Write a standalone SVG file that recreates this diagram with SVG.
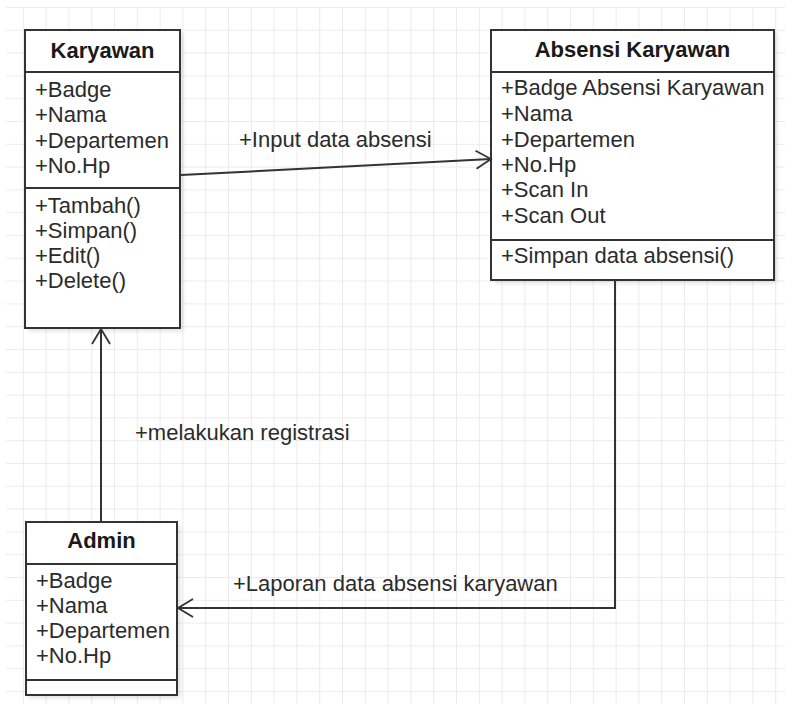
<svg xmlns="http://www.w3.org/2000/svg" width="785" height="704" viewBox="0 0 785 704">
<defs>
<pattern id="grid" x="0" y="7" width="22.8" height="22.8" patternUnits="userSpaceOnUse">
<path d="M0,0 H22.8 M0,0 V22.8" fill="none" stroke="#e6e6e6" stroke-width="1.6"/>
</pattern>
<marker id="open" markerUnits="userSpaceOnUse" markerWidth="20" markerHeight="24" refX="16" refY="11" orient="auto">
<path d="M1,2 L16,11 L1,20" fill="none" stroke="#333" stroke-width="1.8"/>
</marker>
<filter id="sh" x="-10%" y="-10%" width="130%" height="130%">
<feGaussianBlur stdDeviation="2"/>
</filter>
</defs>
<style>
.box{fill:#fff;stroke:#333;stroke-width:2}
.div{stroke:#333;stroke-width:2}
.shadow{fill:#000;opacity:0.12;filter:url(#sh)}
.t{font-family:"Liberation Sans",Arial,sans-serif;font-size:22px;fill:#2b2b2b}
.h{font-family:"Liberation Sans",Arial,sans-serif;font-size:22px;font-weight:bold;fill:#1a1a1a;text-anchor:middle}
.c{fill:none;stroke:#333;stroke-width:2}
</style>
<rect x="0" y="0" width="785" height="704" fill="#fff"/>
<rect x="6" y="7" width="779" height="697" fill="url(#grid)"/>

<g id="Karyawan">
<rect class="shadow" x="28" y="33" width="155" height="298"/>
<rect class="box" x="25" y="30" width="155" height="298"/>
<line class="div" x1="25" y1="72" x2="180" y2="72"/>
<line class="div" x1="25" y1="188" x2="180" y2="188"/>
<text class="h" x="102.5" y="58">Karyawan</text>
<text class="t" x="35" y="97">+Badge</text>
<text class="t" x="35" y="122">+Nama</text>
<text class="t" x="35" y="148">+Departemen</text>
<text class="t" x="35" y="173">+No.Hp</text>
<text class="t" x="35" y="213">+Tambah()</text>
<text class="t" x="35" y="238">+Simpan()</text>
<text class="t" x="35" y="263">+Edit()</text>
<text class="t" x="35" y="288">+Delete()</text>
</g>

<g id="AbsensiKaryawan">
<rect class="shadow" x="494" y="33" width="283" height="250"/>
<rect class="box" x="491" y="30" width="283" height="250"/>
<line class="div" x1="491" y1="72" x2="774" y2="72"/>
<line class="div" x1="491" y1="240" x2="774" y2="240"/>
<text class="h" x="632.5" y="57">Absensi Karyawan</text>
<text class="t" x="501" y="95">+Badge Absensi Karyawan</text>
<text class="t" x="501" y="121">+Nama</text>
<text class="t" x="501" y="147">+Departemen</text>
<text class="t" x="501" y="172">+No.Hp</text>
<text class="t" x="501" y="197">+Scan In</text>
<text class="t" x="501" y="223">+Scan Out</text>
<text class="t" x="501" y="263">+Simpan data absensi()</text>
</g>

<g id="Admin">
<rect class="shadow" x="29" y="525" width="151" height="173"/>
<rect class="box" x="26" y="522" width="151" height="173"/>
<line class="div" x1="26" y1="564" x2="177" y2="564"/>
<line class="div" x1="26" y1="680" x2="177" y2="680"/>
<text class="h" x="101.5" y="548">Admin</text>
<text class="t" x="36" y="588">+Badge</text>
<text class="t" x="36" y="613">+Nama</text>
<text class="t" x="36" y="638">+Departemen</text>
<text class="t" x="36" y="663">+No.Hp</text>
</g>

<g id="connectors">
<line class="c" x1="181" y1="175" x2="491" y2="159" marker-end="url(#open)"/>
<text class="t" x="239" y="147">+Input data absensi</text>
<line class="c" x1="101" y1="522" x2="101" y2="329" marker-end="url(#open)"/>
<text class="t" x="135" y="440">+melakukan registrasi</text>
<polyline class="c" points="615,281 615,608 178,608" marker-end="url(#open)"/>
<text class="t" x="233" y="591">+Laporan data absensi karyawan</text>
</g>
</svg>
